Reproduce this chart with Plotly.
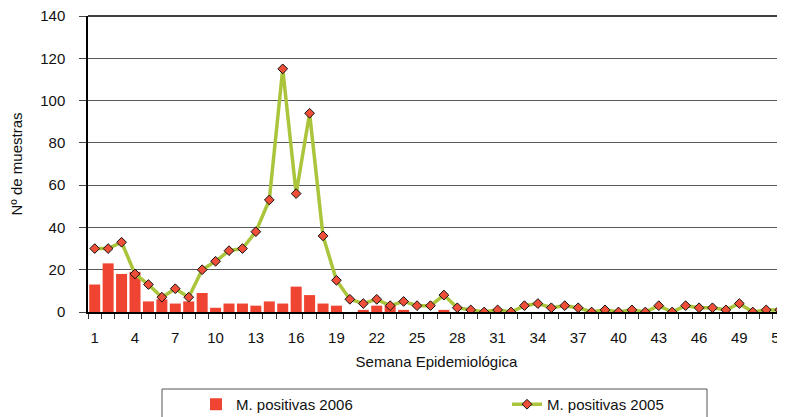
import plotly.graph_objects as go

weeks = list(range(1, 53))
positivas_2006 = [13, 23, 18, 19, 5, 6, 4, 5, 9, 2,
                  4, 4, 3, 5, 4, 12, 8, 4, 3, 0,
                  1, 3, 3, 1, 0, 0, 1, 0, 0, 0,
                  0, 0, 0, 0, 0, 0, 0, 0, 0, 0,
                  0, 0, 0, 0, 0, 0, 0, 0, 0, 0,
                  0, 0]
positivas_2005 = [30, 30, 33, 18, 13, 7, 11, 7, 20, 24,
                  29, 30, 38, 53, 115, 56, 94, 36, 15, 6,
                  4, 6, 3, 5, 3, 3, 8, 2, 1, 0,
                  1, 0, 3, 4, 2, 3, 2, 0, 1, 0,
                  1, 0, 3, 0, 3, 2, 2, 1, 4, 0,
                  1, 1]
tick_weeks = [1, 4, 7, 10, 13, 16, 19, 22, 25, 28, 31, 34, 37, 40, 43, 46, 49, 52]
tick_labels = [str(w) for w in tick_weeks]
y_ticks = [0, 20, 40, 60, 80, 100, 120, 140]

FONT = "Liberation Sans, Arial, sans-serif"

# page is rendered inside a body with an 8px default margin
PAGE_OFF = 8
FIG_W, FIG_H = 785 - PAGE_OFF, 417 - PAGE_OFF
PLOT_L, PLOT_T, PLOT_B = 88, 16, 312           # page pixel positions of the plot area
ML, MT = PLOT_L - PAGE_OFF, PLOT_T - PAGE_OFF
MB = FIG_H - (PLOT_B - PAGE_OFF)
PW, PH = FIG_W - ML, PLOT_B - PLOT_T


def px(xp):
    return (xp - PLOT_L) / PW


def py(yp):
    return (PLOT_B - yp) / PH


fig = go.Figure()
fig.add_trace(go.Bar(
    x=weeks, y=positivas_2006, name="M. positivas 2006",
    marker=dict(color="#EF4432", line=dict(width=0)),
    width=0.82,
))
fig.add_trace(go.Scatter(
    x=weeks, y=positivas_2005, name="M. positivas 2005",
    mode="lines+markers",
    line=dict(color="#AAC53C", width=3.5),
    marker=dict(symbol="diamond", size=7.5, color="#EF4F38",
                line=dict(color="#111111", width=1)),
))

fig.update_layout(
    width=FIG_W, height=FIG_H,
    margin=dict(l=ML, r=0, t=MT, b=MB, autoexpand=False),
    paper_bgcolor="white", plot_bgcolor="white",
    font=dict(family=FONT, size=15, color="#111111"),
    showlegend=True,
    legend=dict(
        orientation="h",
        x=px(196), xanchor="left",
        y=py(388), yanchor="top",
        borderwidth=0, bgcolor="rgba(0,0,0,0)",
        entrywidth=266, entrywidthmode="pixels",
        font=dict(size=15),
        traceorder="normal",
    ),
    shapes=[
        dict(type="rect", xref="paper", yref="paper",
             x0=px(162), x1=px(707), y0=py(389), y1=py(430),
             line=dict(color="#555555", width=1), fillcolor="rgba(0,0,0,0)",
             layer="below"),
        dict(type="line", xref="paper", yref="paper",
             x0=0, x1=1, y0=1, y1=1,
             line=dict(color="#000000", width=1.5), layer="above"),
    ],
    bargap=0.18,
)

fig.update_xaxes(
    range=[0.5, 52.4],
    tickmode="array", tickvals=tick_weeks, ticktext=tick_labels,
    ticks="", showgrid=False,
    showline=True, linecolor="#000000", linewidth=1.5,
    minor=dict(ticks="outside", tick0=0.5, dtick=1, ticklen=5,
               tickcolor="#333333", tickwidth=1, showgrid=False),
    title=dict(text="Semana Epidemiológica", standoff=12, font=dict(size=15)),
    automargin=False,
    ticklabelstandoff=11,
    ticklabeloverflow="allow",
    tickfont=dict(size=15),
)
fig.update_yaxes(
    range=[0, 140],
    tickmode="array", tickvals=y_ticks,
    ticks="outside", ticklen=7, tickcolor="#444444", tickwidth=1.2,
    showgrid=True, gridcolor="#5a5a5a", gridwidth=1.3,
    showline=True, linecolor="#000000", linewidth=1.5,
    zeroline=False,
    title=dict(text="Nº de muestras", standoff=23, font=dict(size=15)),
    automargin=False,
    ticklabelstandoff=11,
    ticklabeloverflow="allow",
    tickfont=dict(size=15),
)

fig.write_html("out.html")
